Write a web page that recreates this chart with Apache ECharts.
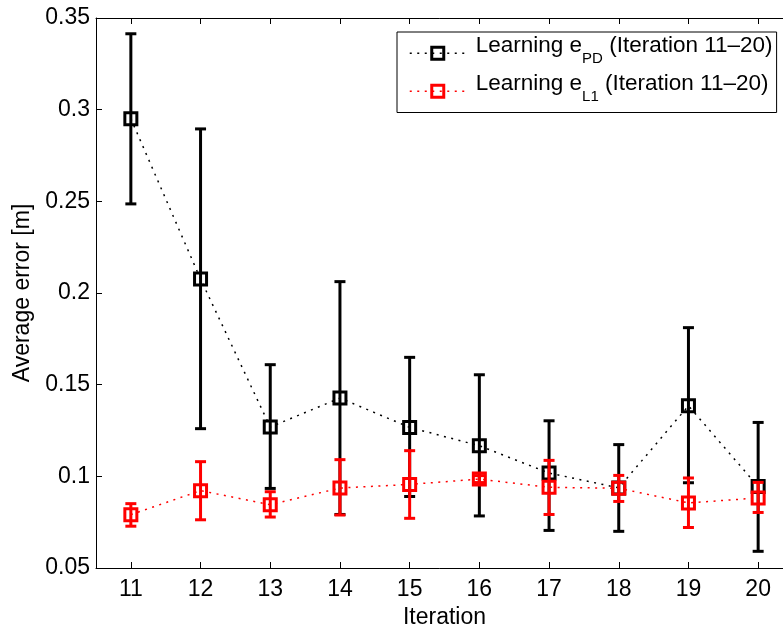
<!DOCTYPE html>
<html>
<head>
<meta charset="utf-8">
<title>Average error per iteration</title>
<script src="https://cdn.jsdelivr.net/npm/echarts@6/dist/echarts.min.js"></script>
<style>
    html, body { margin: 0; padding: 0; background: #fff; }
    #chart { width: 783px; height: 628px; }
</style>
</head>
<body>
<div id="chart"></div>
<script>
const iterations = ['11', '12', '13', '14', '15', '16', '17', '18', '19', '20'];

/*Learning e_PD*/
const pdMean = [0.2951, 0.2076, 0.1269, 0.1427, 0.1267, 0.1167, 0.1018, 0.0937, 0.1385, 0.0944];
const pdLow = [0.2486, 0.1260, 0.0934, 0.0792, 0.0890, 0.0784, 0.0705, 0.0700, 0.0965, 0.0591];
const pdHigh = [0.3414, 0.2895, 0.1609, 0.2062, 0.1649, 0.1554, 0.1303, 0.1173, 0.1811, 0.1294];

/*Learning e_L1*/
const l1Mean = [0.0791, 0.0922, 0.0845, 0.0936, 0.0956, 0.0985, 0.0940, 0.0935, 0.0855, 0.0882];
const l1Low = [0.0728, 0.0763, 0.0778, 0.0789, 0.0771, 0.0966, 0.0792, 0.0863, 0.0721, 0.0803];
const l1High = [0.0851, 0.1080, 0.0916, 0.1091, 0.1140, 0.1004, 0.1087, 0.1005, 0.0991, 0.0967];

const seriesNames = ['Learning e_PD (Iteration 11\u201320)', 'Learning e_L1 (Iteration 11\u201320)'];
const subscripts = ['PD', 'L1'];

const font = "'Liberation Sans', Arial, Helvetica, sans-serif";

(function () {
    const chart = echarts.init(document.getElementById('chart'));

    function errorBars(low, high) {
        return iterations.map(function (c, i) {
            return [i, low[i], high[i]];
        });
    }

    function errorRenderer(color) {
        return function (params, api) {
            const x = api.value(0);
            const lo = api.coord([x, api.value(1)]);
            const hi = api.coord([x, api.value(2)]);
            const half = 5.5;
            const style = { stroke: color, lineWidth: 3 };

            return {
                type: 'group',
                children: [
                    { type: 'line', shape: { x1: lo[0], y1: lo[1], x2: hi[0], y2: hi[1] }, style: style },
                    { type: 'line', shape: { x1: hi[0] - half, y1: hi[1], x2: hi[0] + half, y2: hi[1] }, style: style },
                    { type: 'line', shape: { x1: lo[0] - half, y1: lo[1], x2: lo[0] + half, y2: lo[1] }, style: style }
                ]
            };
        };
    }

    function meanLine(name, data, color, z) {
        return {
            type: 'line',
            name: name,
            data: data,
            z: z,
            symbol: 'rect',
            symbolSize: 12,
            showAllSymbol: true,
            lineStyle: { color: color, width: 1.5, type: [2, 5.5] },
            itemStyle: { color: 'transparent', borderColor: color, borderWidth: 3 }
        };
    }

    const axisLine = { show: true, onZero: false, lineStyle: { color: '#000', width: 1 } };
    const axisTick = { show: true, inside: true, length: 6, lineStyle: { color: '#000', width: 1 } };
    const labelStyle = { color: '#000', fontSize: 23, fontFamily: font };

    const option = {
        animation: false,
        backgroundColor: '#fff',
        grid: { left: 96, top: 18, width: 697, bottom: 60, outerBoundsMode: 'none' },
        legend: {
            data: seriesNames,
            orient: 'vertical',
            left: 397,
            top: 32,
            itemWidth: 56,
            itemHeight: 15,
            itemGap: 5.5,
            padding: [2, 4, 8, 12],
            borderColor: '#000',
            borderWidth: 1,
            borderRadius: 0,
            backgroundColor: '#fff',
            selectedMode: false,
            lineStyle: { width: 1.5 },
            itemStyle: { borderWidth: 3 },
            formatter: function (name) {
                const i = seriesNames.indexOf(name);
                return '{a|Learning e}{s|' + subscripts[i] + '}{t| (Iteration 11\u201320)}';
            },
            textStyle: {
                color: '#000',
                fontFamily: font,
                rich: {
                    a: { fontSize: 22.5, fontFamily: font, color: '#000', lineHeight: 38.5, verticalAlign: 'top', padding: [0, 0, 0, 5] },
                    t: { fontSize: 22.5, fontFamily: font, color: '#000', lineHeight: 38.5, verticalAlign: 'top' },
                    s: { fontSize: 15, fontFamily: font, color: '#000', verticalAlign: 'bottom', padding: [0, 0, 6, 0] }
                }
            }
        },
        xAxis: [
            {
                type: 'category',
                data: iterations,
                boundaryGap: true,
                axisLine: axisLine,
                axisTick: Object.assign({ alignWithLabel: true }, axisTick),
                axisLabel: Object.assign({ margin: 10 }, labelStyle),
                splitLine: { show: false },
                name: 'Iteration',
                nameLocation: 'middle',
                nameGap: 36,
                nameTextStyle: labelStyle
            },
            {
                type: 'category',
                position: 'top',
                data: iterations,
                boundaryGap: true,
                axisLine: axisLine,
                axisTick: Object.assign({ alignWithLabel: true }, axisTick),
                axisLabel: { show: false },
                splitLine: { show: false }
            }
        ],
        yAxis: {
            type: 'value',
            min: 0.05,
            max: 0.35,
            interval: 0.05,
            axisLine: axisLine,
            axisTick: axisTick,
            axisLabel: Object.assign({ margin: 6 }, labelStyle),
            splitLine: { show: false },
            name: 'Average error [m]',
            nameLocation: 'middle',
            nameRotate: 90,
            nameGap: 62,
            nameTextStyle: labelStyle
        },
        series: [
            {
                type: 'custom',
                z: 2,
                silent: true,
                renderItem: errorRenderer('#000'),
                encode: { x: 0, y: [1, 2] },
                data: errorBars(pdLow, pdHigh)
            },
            meanLine(seriesNames[0], pdMean, '#000', 3),
            {
                type: 'custom',
                z: 4,
                silent: true,
                renderItem: errorRenderer('#ff0000'),
                encode: { x: 0, y: [1, 2] },
                data: errorBars(l1Low, l1High)
            },
            meanLine(seriesNames[1], l1Mean, '#ff0000', 5)
        ]
    };

    chart.setOption(option);

    window.addEventListener('resize', chart.resize.bind(chart));
})();
</script>
</body>
</html>
